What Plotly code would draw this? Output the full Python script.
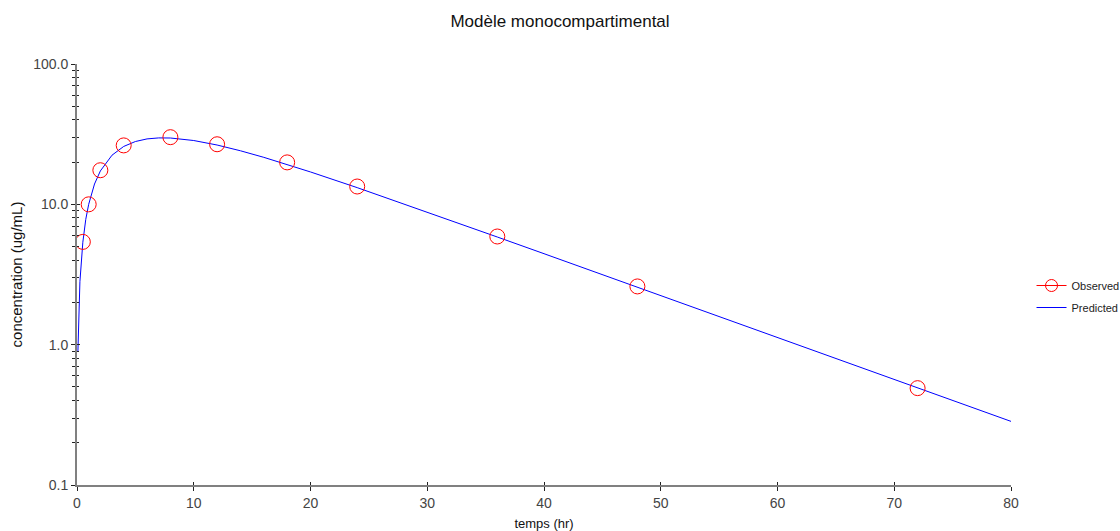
import plotly.graph_objects as go

# Observed data
obs_t = [0.5, 1, 2, 4, 8, 12, 18, 24, 36, 48, 72]
obs_c = [5.4, 10.0, 17.5, 26.3, 30.1, 26.8, 19.9, 13.4, 5.9, 2.6, 0.49]

# Predicted curve
pred_t = [0.08, 0.25, 0.5, 0.75, 1, 1.5, 2, 3, 4, 5, 6, 7, 8, 9, 10, 12, 14, 16,
          18, 20, 24, 28, 32, 36, 40, 48, 56, 64, 72, 80]
pred_c = [0.9, 2.81, 5.37, 7.81, 10.0, 13.96, 17.29, 22.4, 25.85, 28.03, 29.26,
          29.74, 29.69, 29.24, 28.49, 26.46, 24.08, 21.62, 19.23, 17.01, 13.15,
          10.07, 7.69, 5.85, 4.45, 2.57, 1.48, 0.854, 0.493, 0.284]

y_tickvals = [0.1, 1, 10, 100]
y_ticktext = ["0.1", "1.0", "10.0", "100.0"]
x_tickvals = [0, 10, 20, 30, 40, 50, 60, 70, 80]

FONT = "Liberation Sans, Arial, sans-serif"
RED = "#ff0000"
BLUE = "#0000ff"
AXC = "#808080"

fig = go.Figure()

fig.add_trace(go.Scatter(
    x=pred_t, y=pred_c, mode="lines", name="Predicted",
    line=dict(color=BLUE, width=1), showlegend=False))
fig.add_trace(go.Scatter(
    x=obs_t, y=obs_c, mode="markers", name="Observed", showlegend=False,
    marker=dict(symbol="circle-open", size=15, color=RED, line=dict(width=1, color=RED))))

# legend entries
fig.add_trace(go.Scatter(
    x=[None], y=[None], mode="lines+markers", name="Observed", legendgroup="a",
    line=dict(color=RED, width=1),
    marker=dict(symbol="circle-open", size=12, color=RED, line=dict(width=1, color=RED))))
fig.add_trace(go.Scatter(
    x=[None], y=[None], mode="lines", name="Predicted", legendgroup="b",
    line=dict(color=BLUE, width=1)))

# invisible trace for overlay axes (inside ticks -> crossing ticks)
fig.add_trace(go.Scatter(x=[None], y=[None], xaxis="x2", yaxis="y2",
                         showlegend=False, hoverinfo="skip"))

fig.update_layout(
    width=1120, height=531,
    paper_bgcolor="white", plot_bgcolor="white",
    margin=dict(l=77, r=109, t=64, b=46, autoexpand=False),
    font=dict(family=FONT, color="#333333", size=12),
    title=dict(text="Modèle monocompartimental", x=0.5, xanchor="center",
               xref="container", y=0.9605, yanchor="middle",
               font=dict(family=FONT, size=17, color="#111111")),
    showlegend=True,
    legend=dict(xref="container", yref="container", x=0.921, y=0.4416,
                xanchor="left", yanchor="middle",
                font=dict(family=FONT, size=11, color="#222222"),
                bgcolor="rgba(0,0,0,0)", itemwidth=30, tracegroupgap=3),
    xaxis=dict(range=[0, 80], tickvals=x_tickvals, showgrid=False, zeroline=False,
               showline=True, linecolor=AXC, linewidth=2, automargin=False,
               ticks="outside", ticklen=4, tickcolor="#222222", tickwidth=1,
               tickfont=dict(family=FONT, size=14, color="#444444"),
               title=dict(text="temps (hr)", standoff=9,
                          font=dict(family=FONT, size=13, color="#111111"))),
    yaxis=dict(type="log", range=[-1, 2], tickvals=y_tickvals, ticktext=y_ticktext,
               showgrid=False, zeroline=False, showline=True, linecolor=AXC, linewidth=2,
               automargin=False,
               ticks="outside", ticklen=4, tickcolor="#222222", tickwidth=1,
               tickfont=dict(family=FONT, size=14, color="#444444"),
               minor=dict(ticks="outside", ticklen=3, tickcolor="#222222",
                          tickwidth=1, showgrid=False, dtick="D1"),
               title=dict(text="concentration (ug/mL)", standoff=7,
                          font=dict(family=FONT, size=15, color="#111111"))),
    xaxis2=dict(overlaying="x", range=[0, 80], tickvals=x_tickvals, showgrid=False,
                zeroline=False, showline=False, showticklabels=False,
                ticks="inside", ticklen=3, tickcolor="#222222", side="bottom",
                anchor="y2", automargin=False),
    yaxis2=dict(overlaying="y", type="log", range=[-1, 2], tickvals=y_tickvals,
                showgrid=False, zeroline=False, showline=False, showticklabels=False,
                ticks="inside", ticklen=3, tickcolor="#222222", side="left",
                anchor="x2", automargin=False,
                minor=dict(ticks="inside", ticklen=2, tickcolor="#222222",
                           showgrid=False, dtick="D1")),
)

fig.write_html("out.html", config={"displayModeBar": False},
               post_script="document.body.style.margin='0';document.body.style.overflow='hidden';")
